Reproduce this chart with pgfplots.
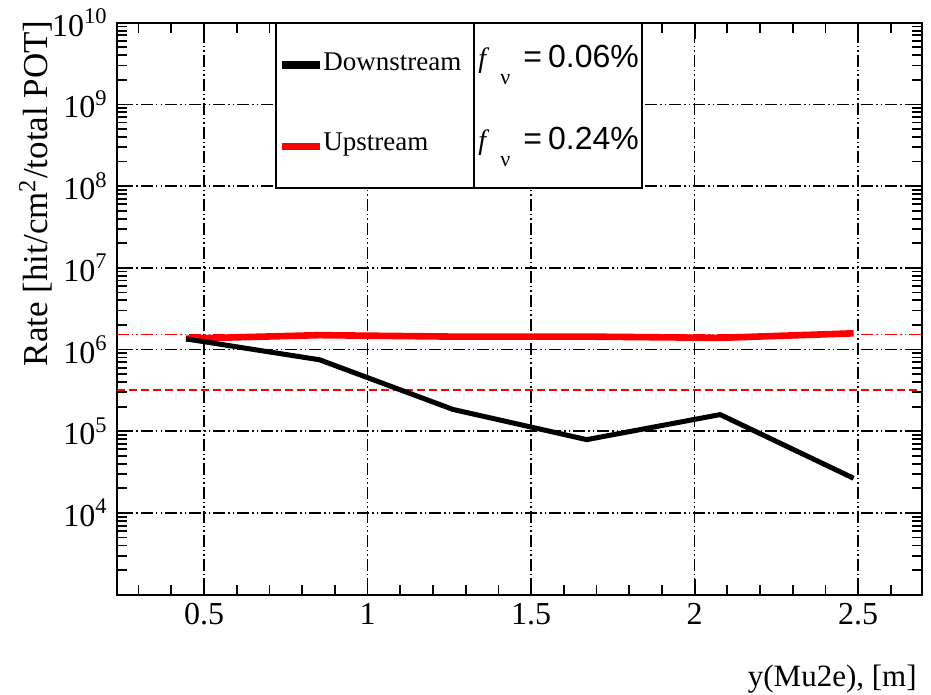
\documentclass[border=0pt]{standalone}
\usepackage{pgfplots}
\pgfplotsset{compat=1.18}
\usepackage{fontspec}
\setmainfont{Liberation Serif}
\newfontfamily\sansf{Liberation Sans}
\begin{document}
\begin{tikzpicture}
\path[use as bounding box] (-58.5pt,-50.15pt) rectangle (407pt,297.35pt);
\begin{axis}[
  name=ax, at={(0,0)}, anchor=south west,
  scale only axis, width=402.5pt, height=286pt,
  ymode=log, xmin=0.234, xmax=2.695, ymin=1e3, ymax=1e10,
  axis line style={line width=1pt},
  every tick/.style={black, line width=0.9pt},
  major tick length=8pt, minor tick length=5pt,
  tick align=inside, tick pos=both,
  xtick={0.5,1,1.5,2,2.5}, xticklabels={0.5,1,1.5,2,2.5},
  minor xtick={0.3,0.4,0.6,0.7,0.8,0.9,1.1,1.2,1.3,1.4,1.6,1.7,1.8,1.9,2.1,2.2,2.3,2.4,2.6},
  ytick={1e4,1e5,1e6,1e7,1e8,1e9,1e10},
  yticklabels={10\textsuperscript{4},10\textsuperscript{5},10\textsuperscript{6},10\textsuperscript{7},10\textsuperscript{8},10\textsuperscript{9},10\textsuperscript{10}},
  minor ytick={2e3,3e3,4e3,5e3,6e3,7e3,8e3,9e3,
    2e4,3e4,4e4,5e4,6e4,7e4,8e4,9e4,
    2e5,3e5,4e5,5e5,6e5,7e5,8e5,9e5,
    2e6,3e6,4e6,5e6,6e6,7e6,8e6,9e6,
    2e7,3e7,4e7,5e7,6e7,7e7,8e7,9e7,
    2e8,3e8,4e8,5e8,6e8,7e8,8e8,9e8,
    2e9,3e9,4e9,5e9,6e9,7e9,8e9,9e9},
  tick label style={font=\fontsize{16}{19}\selectfont},
  xticklabel style={inner sep=4pt},
  yticklabel style={inner sep=4.5pt},
  grid=major,
  major grid style={black, line width=0.8pt, dash pattern=on 6pt off 1.5pt on 0.75pt off 1.5pt on 0.75pt off 1.5pt},
  clip=true,
]
\addplot[red, line width=0.7pt, dash pattern=on 6pt off 1.5pt on 0.75pt off 1.5pt on 0.75pt off 1.5pt]
  coordinates {(0.234,1.52e6) (2.695,1.52e6)};
\addplot[red, line width=0.8pt, dash pattern=on 4pt off 2pt]
  coordinates {(0.234,3.18e5) (2.695,3.18e5)};
\addplot[red, line width=3.3pt, line join=round]
  coordinates {(0.445,1.36e6) (0.853,1.5e6) (1.261,1.44e6) (1.670,1.44e6) (2.078,1.39e6) (2.486,1.58e6)};
\addplot[black, line width=2.5pt, line join=round]
  coordinates {(0.445,1.35e6) (0.853,7.5e5) (1.261,1.85e5) (1.670,7.9e4) (2.078,1.6e5) (2.486,2.66e4)};
\end{axis}
% legend
\draw[line width=1pt, fill=white] ([xshift=79.5pt]ax.north west) rectangle ([xshift=262.35pt,yshift=-82.65pt]ax.north west);
\draw[line width=1pt] ([xshift=178.5pt]ax.north west) -- ([xshift=178.5pt,yshift=-82.65pt]ax.north west);
\draw[black, line width=4pt] ([xshift=82.5pt,yshift=-21.15pt]ax.north west) -- ([xshift=101.5pt,yshift=-21.15pt]ax.north west);
\draw[red, line width=3.5pt] ([xshift=82.5pt,yshift=-62.15pt]ax.north west) -- ([xshift=101.5pt,yshift=-62.15pt]ax.north west);
\node[anchor=base west, inner sep=0, font=\fontsize{13.5}{16}\selectfont] at ([xshift=103pt,yshift=-24.15pt]ax.north west) {Downstream};
\node[anchor=base west, inner sep=0, font=\fontsize{13.5}{16}\selectfont] at ([xshift=103pt,yshift=-64.15pt]ax.north west) {Upstream};
% f_nu column
\node[anchor=base west, inner sep=0, font=\fontsize{14}{16}\selectfont\itshape] at ([xshift=180.5pt,yshift=-22.65pt]ax.north west) {f};
\node[anchor=base west, inner sep=0, font=\fontsize{11}{13}\selectfont] at ([xshift=191.5pt,yshift=-31.15pt]ax.north west) {ν};
\node[anchor=base west, inner sep=0, font=\fontsize{16}{19}\sansf] at ([xshift=203pt,yshift=-22.65pt]ax.north west) {=\hspace{3pt}0.06\%};
\node[anchor=base west, inner sep=0, font=\fontsize{14}{16}\selectfont\itshape] at ([xshift=180.5pt,yshift=-63.65pt]ax.north west) {f};
\node[anchor=base west, inner sep=0, font=\fontsize{11}{13}\selectfont] at ([xshift=191.5pt,yshift=-72.15pt]ax.north west) {ν};
\node[anchor=base west, inner sep=0, font=\fontsize{16}{19}\sansf] at ([xshift=203pt,yshift=-63.65pt]ax.north west) {=\hspace{3pt}0.24\%};
% axis titles
\node[rotate=90, anchor=base east, inner sep=0, font=\fontsize{17.5}{20}\selectfont] at ([xshift=-34.5pt,yshift=1.35pt]ax.north west) {Rate [hit/cm\textsuperscript{2}/total POT]};
\node[anchor=base east, inner sep=0, font=\fontsize{15.5}{18}\selectfont] at ([xshift=-2.5pt,yshift=-46.15pt]ax.south east) {y(Mu2e), [m]};
\end{tikzpicture}
\end{document}
